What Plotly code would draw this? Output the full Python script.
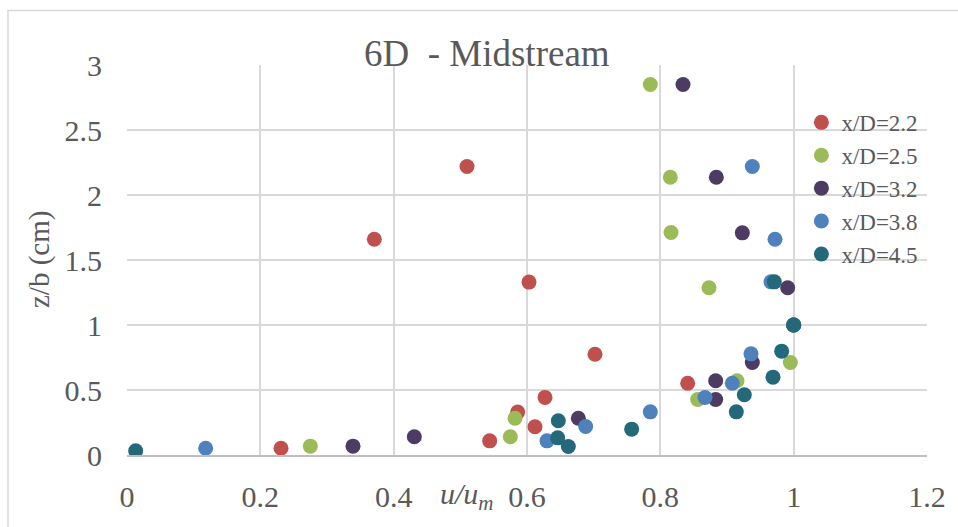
import plotly.graph_objects as go

series_names = ["x/D=2.2", "x/D=2.5", "x/D=3.2", "x/D=3.8", "x/D=4.5"]
series_colors = ["#C0504D", "#9BBB59", "#4D3B63", "#4F81BD", "#23697A"]

u_22 = [0.231, 0.544, 0.612, 0.586, 0.627, 0.841, 0.702, 1.0, 0.603, 0.371, 0.510]
z_22 = [0.052, 0.109, 0.217, 0.330, 0.443, 0.552, 0.775, 1.0, 1.330, 1.660, 2.219]

u_25 = [0.275, 0.575, 0.582, 0.856, 0.915, 0.995, 1.0, 0.873, 0.816, 0.815, 0.785]
z_25 = [0.068, 0.140, 0.283, 0.427, 0.571, 0.712, 1.0, 1.286, 1.712, 2.137, 2.850]

u_32 = [0.339, 0.431, 0.677, 0.883, 0.883, 0.938, 1.0, 0.991, 0.923, 0.884, 0.834]
z_32 = [0.068, 0.140, 0.283, 0.427, 0.571, 0.712, 1.0, 1.286, 1.709, 2.137, 2.850]

u_38 = [0.118, 0.630, 0.688, 0.785, 0.867, 0.908, 0.936, 1.0, 0.966, 0.972, 0.938]
z_38 = [0.052, 0.109, 0.219, 0.332, 0.442, 0.552, 0.778, 1.0, 1.332, 1.660, 2.219]

u_45 = [0.013, 0.662, 0.646, 0.757, 0.647, 0.914, 0.926, 0.969, 0.982, 1.0, 0.971]
z_45 = [0.032, 0.065, 0.132, 0.199, 0.263, 0.332, 0.463, 0.599, 0.799, 1.0, 1.332]

x_ticks = [0, 0.2, 0.4, 0.6, 0.8, 1.0, 1.2]
x_tick_labels = ["0", "0.2", "0.4", "0.6", "0.8", "1", "1.2"]
y_ticks = [0, 0.5, 1.0, 1.5, 2.0, 2.5, 3.0]
y_tick_labels = ["0", "0.5", "1", "1.5", "2", "2.5", "3"]

all_u = [u_22, u_25, u_32, u_38, u_45]
all_z = [z_22, z_25, z_32, z_38, z_45]

FONT = "Times New Roman, Liberation Serif, DejaVu Serif, serif"
TXT = "#595959"

fig = go.Figure()
for name, col, u, z in zip(series_names, series_colors, all_u, all_z):
    fig.add_trace(go.Scatter(
        x=u, y=z, mode="markers", name=name,
        marker=dict(color=col, size=15, line=dict(width=0)),
    ))

fig.update_layout(
    width=958, height=527,
    margin=dict(l=127, r=28, t=65, b=72, pad=0),
    paper_bgcolor="white", plot_bgcolor="white",
    font=dict(family=FONT, color=TXT),
    showlegend=True,
    legend=dict(
        x=0.843, y=0.908, xanchor="left", yanchor="top",
        bgcolor="rgba(0,0,0,0)", borderwidth=0,
        font=dict(family=FONT, size=23, color=TXT),
        itemwidth=30,
    ),
    xaxis=dict(
        range=[0, 1.2], tickvals=x_ticks, ticktext=x_tick_labels,
        showgrid=True, gridcolor="#D9D9D9", gridwidth=2,
        zeroline=False, showline=True, linecolor="#BFBFBF", linewidth=2,
        ticks="", ticklabelstandoff=14,
        tickfont=dict(family=FONT, size=30, color=TXT),
    ),
    yaxis=dict(
        range=[0, 3], tickvals=y_ticks, ticktext=y_tick_labels,
        showgrid=True, gridcolor="#D9D9D9", gridwidth=2,
        zeroline=False, showline=False,
        ticks="", ticklabelstandoff=24,
        tickfont=dict(family=FONT, size=30, color=TXT),
    ),
    annotations=[
        dict(text="6D  - Midstream", xref="paper", yref="paper",
             x=0.4496, y=0.972, xanchor="center", yanchor="bottom",
             showarrow=False, font=dict(family=FONT, size=37, color=TXT)),
        dict(text="z/b (cm)", xref="paper", yref="paper",
             x=-0.11, y=0.5, xanchor="center", yanchor="middle", textangle=-90,
             showarrow=False, font=dict(family=FONT, size=29, color=TXT)),
        dict(text="<i>u/u<sub>m</sub></i>", xref="paper", yref="paper",
             x=0.425, y=-0.105, xanchor="center", yanchor="middle",
             showarrow=False, font=dict(family=FONT, size=30, color=TXT)),
    ],
    shapes=[
        dict(type="rect", xref="paper", yref="paper",
             x0=-0.1488, x1=1.06, y0=-0.25, y1=1.1397,
             line=dict(color="#D9D9D9", width=1.5), layer="below"),
    ],
)

fig.write_html("out.html")
